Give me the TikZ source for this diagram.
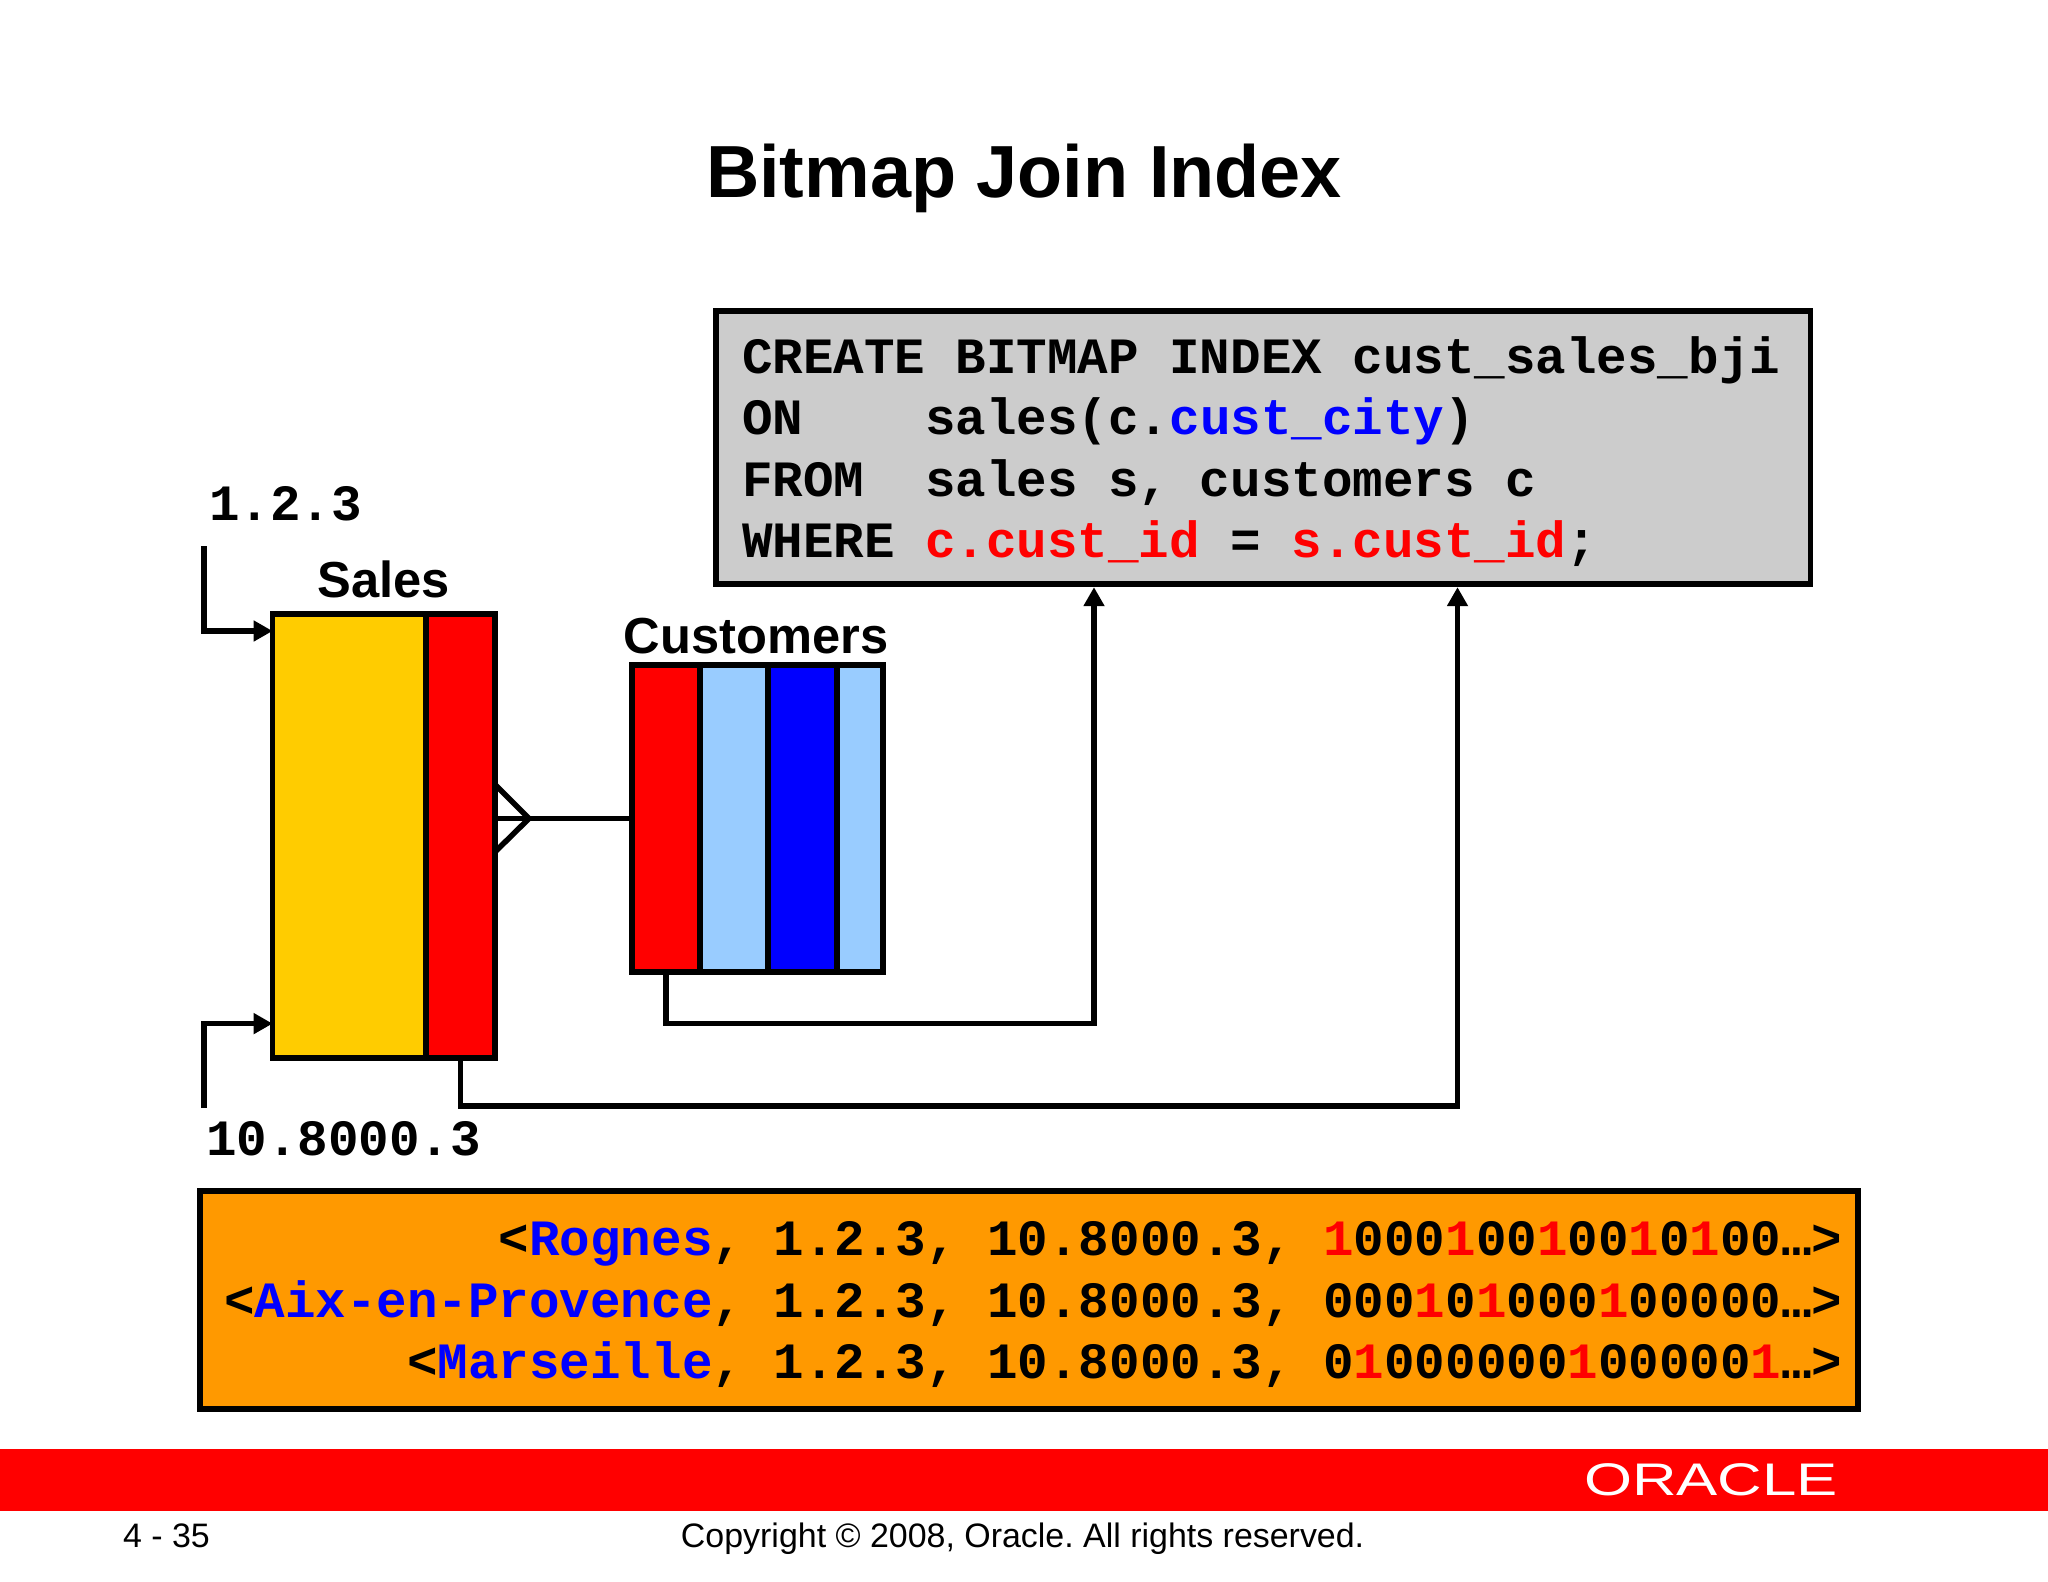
\documentclass[tikz,border=0pt]{standalone}
\usepackage{fontspec}
\setmainfont{Liberation Sans}
\newfontfamily\codefont{Liberation Mono}
\usetikzlibrary{arrows.meta}
\definecolor{colyellow}{HTML}{FFCC00}
\definecolor{colred}{HTML}{FF0000}
\definecolor{colsky}{HTML}{99CCFF}
\definecolor{colblue}{HTML}{0000FF}
\definecolor{colgray}{HTML}{CCCCCC}
\definecolor{colorange}{HTML}{FF9900}
\newcommand{\rd}[1]{\textcolor{colred}{#1}}
\newcommand{\bl}[1]{\textcolor{colblue}{#1}}
\frenchspacing

\begin{document}
\begin{tikzpicture}[x=0.01cm,y=-0.01cm]
	\tikzstyle{every node}+=[inner sep=0pt,outer sep=0pt]
	\tikzstyle{column}=[draw=black,line width=0.055cm,anchor=north west]
	\tikzstyle{salescol}=[column,minimum height=4.437cm]
	\tikzstyle{custcol}=[column,minimum height=3.07cm]
	\tikzstyle{link}=[draw=black,line width=0.055cm]
	\tikzstyle{rowlink}=[link,-{Triangle[length=0.19cm,width=0.2cm]}]
	\tikzstyle{arrowlink}=[rowlink,shorten >=0.03cm]
	\tikzstyle{code}=[font=\codefont\bfseries\fontsize{14.47}{17.5}\selectfont]
	\tikzstyle{heading}=[font=\bfseries\fontsize{14.4}{17}\selectfont,anchor=base]
	\tikzstyle{footer}=[font=\fontsize{9.65}{11}\selectfont,anchor=base]
	\useasboundingbox (0,0) rectangle (2048,1582);

	\node (title) [anchor=base,font=\bfseries\fontsize{21}{25}\selectfont] at (1024,198) {Bitmap Join Index};

	\node (codebox) [code,draw=black,line width=0.055cm,fill=colgray,anchor=north west,minimum height=2.73cm,inner xsep=0.26cm,text width=10.42cm,align=flush left] at (716,311) {\rule{0pt}{0.45cm}CREATE BITMAP INDEX cust\_sales\_bji\\
		ON~~~~sales(c.\bl{cust\_city})\\
		FROM~~sales s, customers c\\
		WHERE \rd{c.cust\_id} = \rd{s.cust\_id};};

	\node (salesA) [salescol,fill=colyellow,minimum width=1.534cm] at (272.6,613.8) {};
	\node (salesB) [salescol,fill=colred,minimum width=0.69cm] at (426.2,613.8) {};
	\node (salesname) [heading] at (383.6,597) {Sales};

	\node (custA) [custcol,fill=colred,minimum width=0.68cm] at (632,665) {};
	\node (custB) [custcol,fill=colsky,minimum width=0.68cm] at (700,665) {};
	\node (custC) [custcol,fill=colblue,minimum width=0.69cm] at (768,665) {};
	\node (custD) [custcol,fill=colsky,minimum width=0.46cm] at (837,665) {};
	\node (custname) [heading] at (756,653) {Customers};

	\node (ridlow) [code,anchor=base west] at (209,520) {1.2.3};
	\node (ridhigh) [code,anchor=base west] at (206,1155) {10.8000.3};

	\coordinate (ridlowfoot) at (204,546);
	\coordinate (ridhighfoot) at (204,1108);
	\draw [rowlink] (ridlowfoot) |- (salesA.west |- 0,631);
	\draw [rowlink] (ridhighfoot) |- (salesA.west |- 0,1023.6);

	\draw [link] (salesB.east |- custA.west) -- (custA.west);
	\draw [link] (salesB.east |- 0,784.7) -- (529,818.5) -- (salesB.east |- 0,851.7);

	\draw [arrowlink] (custA.south) |- (1094,1023.6) -- (1094,1023.6 |- codebox.south);
	\draw [arrowlink] (salesB.south) |- (1457.5,1106) -- (1457.5,1106 |- codebox.south);

	\node (entries) [code,draw=black,line width=0.055cm,fill=colorange,anchor=north west,minimum height=2.18cm,inner xsep=0.155cm,text width=16.26cm,align=flush right] at (200,1191) {\rule{0pt}{0.43cm}<\bl{Rognes}, 1.2.3, 10.8000.3, \rd{1}000\rd{1}00\rd{1}00\rd{1}0\rd{1}00…>\\
		<\bl{Aix-en-Provence}, 1.2.3, 10.8000.3, 000\rd{1}0\rd{1}000\rd{1}00000…>\\
		<\bl{Marseille}, 1.2.3, 10.8000.3, 0\rd{1}000000\rd{1}00000\rd{1}…>};

	\node (band) [fill=colred,anchor=north west,minimum width=20.48cm,minimum height=0.62cm] at (0,1449) {};
	\node (logo) [anchor=base,text=white,xscale=1.35,font=\fontsize{13}{15}\selectfont] at (1711,1495) {ORACLE};
	\node (page) [footer,anchor=base west] at (123,1547) {4 - 35};
	\node (copyright) [footer] at (1022.6,1547) {Copyright © 2008, Oracle. All rights reserved.};
\end{tikzpicture}
\end{document}
